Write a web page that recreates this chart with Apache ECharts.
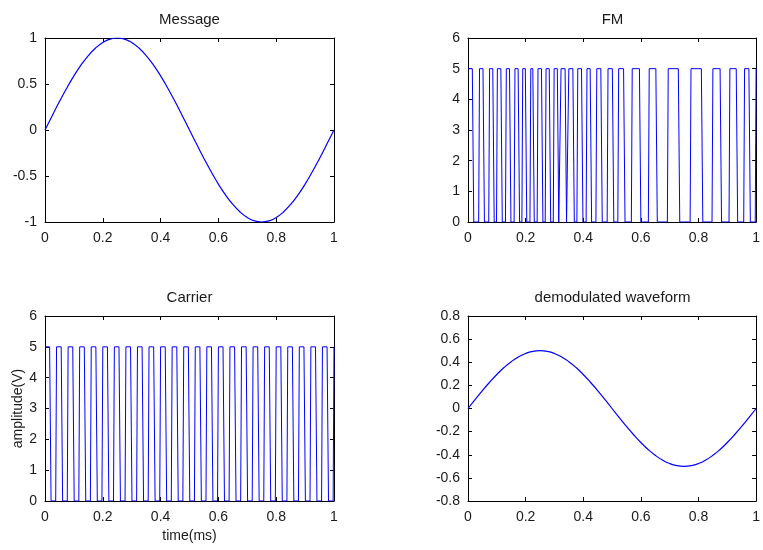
<!DOCTYPE html>
<html>
<head>
<meta charset="utf-8">
<script src="https://cdn.jsdelivr.net/npm/echarts@6/dist/echarts.min.js"></script>
<style>
html,body{margin:0;padding:0;background:#fff;}
#chart{width:763px;height:550px;}
</style>
</head>
<body>
<div id="chart"></div>
<script>
// ---- data ----
const panelTitles = ['Message', 'FM', 'Carrier', 'demodulated waveform'];
const yAxisLabel = 'amplitude(V)';
const xAxisLabel = 'time(ms)';

const sampleTimes = [0,0.025,0.05,0.075,0.1,0.125,0.15,0.175,0.2,0.225,0.25,0.275,0.3,0.325,0.35,0.375,0.4,0.425,0.45,0.475,0.5,0.525,0.55,0.575,0.6,0.625,0.65,0.675,0.7,0.725,0.75,0.775,0.8,0.825,0.85,0.875,0.9,0.925,0.95,0.975,1];
const messageValues = [0,0.156,0.309,0.454,0.588,0.707,0.809,0.891,0.951,0.988,1,0.988,0.951,0.891,0.809,0.707,0.588,0.454,0.309,0.156,0,-0.156,-0.309,-0.454,-0.588,-0.707,-0.809,-0.891,-0.951,-0.988,-1,-0.988,-0.951,-0.891,-0.809,-0.707,-0.588,-0.454,-0.309,-0.156,0];
const demodValues = [0,0.078,0.155,0.227,0.294,0.354,0.405,0.446,0.476,0.494,0.5,0.494,0.476,0.446,0.405,0.354,0.294,0.227,0.155,0.078,0,-0.078,-0.155,-0.227,-0.294,-0.354,-0.405,-0.446,-0.476,-0.494,-0.5,-0.494,-0.476,-0.446,-0.405,-0.354,-0.294,-0.227,-0.155,-0.078,0];

// square waves: times where each pulse is high (top start / top end)
const pulseHigh = 5;
const fmHighStart = [0,0.040,0.075,0.102,0.133,0.163,0.190,0.218,0.243,0.271,0.299,0.323,0.350,0.381,0.413,0.447,0.486,0.523,0.570,0.629,0.695,0.774,0.850,0.909,0.960,1.0];
const fmHighEnd   = [0.015,0.052,0.086,0.114,0.144,0.174,0.199,0.225,0.255,0.282,0.310,0.337,0.364,0.394,0.424,0.461,0.501,0.540,0.595,0.652,0.730,0.810,0.875,0.931,0.975,1.0];
const carrierHighStart = [0,0.04,0.08,0.12,0.16,0.20,0.24,0.28,0.32,0.36,0.40,0.44,0.48,0.52,0.56,0.60,0.64,0.68,0.72,0.76,0.80,0.84,0.88,0.92,0.96,1.0];
const carrierHighEnd   = [0.016,0.056,0.096,0.136,0.176,0.216,0.256,0.296,0.336,0.376,0.416,0.456,0.496,0.536,0.576,0.616,0.656,0.696,0.736,0.776,0.816,0.856,0.896,0.936,0.976,1.0];

const xTickStep = 0.2;
// ---------------------------------------

const RISE = 0.003, FALL = 0.005; // edge slant of sampled waveform
function squareWave(starts, ends, level) {
  const pts = [];
  for (let i = 0; i < starts.length; i++) {
    const s = starts[i], e = ends[i];
    if (s <= 0) { pts.push([0, level]); }
    else { pts.push([Math.max(0, s - RISE), 0]); pts.push([s, level]); }
    if (e < 1) { pts.push([e, level]); pts.push([Math.min(1, e + FALL), 0]); }
  }
  return pts;
}
function zip(xs, ys) { return xs.map((x, i) => [x, ys[i]]); }

const FONT = 'Liberation Sans, Arial, Helvetica, sans-serif';
const TXT = '#1a1a1a';
const grids = [
  {left: 45, top: 38, width: 289, height: 184},
  {left: 468, top: 38, width: 289, height: 184},
  {left: 45, top: 316, width: 289, height: 185},
  {left: 468, top: 316, width: 289, height: 185}
];
const yRanges = [
  {min: -1, max: 1, interval: 0.5},
  {min: 0, max: 6, interval: 1},
  {min: 0, max: 6, interval: 1},
  {min: -0.8, max: 0.8, interval: 0.2}
];

const axisLine = {show: true, onZero: false, lineStyle: {color: '#000', width: 1}};
const axisTick = {show: true, inside: true, length: 4, lineStyle: {color: '#000'}};
const labelStyle = {color: TXT, fontFamily: FONT, fontSize: 14};

const xAxes = [], yAxes = [];
grids.forEach((g, i) => {
  const xa = {
    type: 'value', gridIndex: i, min: 0, max: 1, interval: xTickStep,
    axisLine, axisTick, splitLine: {show: false},
    axisLabel: Object.assign({margin: 9}, labelStyle)
  };
  if (i === 2) {
    xa.name = xAxisLabel; xa.nameLocation = 'middle'; xa.nameGap = 28;
    xa.nameTextStyle = {color: TXT, fontFamily: FONT, fontSize: 14};
  }
  xAxes.push(xa);
  const ya = Object.assign({
    type: 'value', gridIndex: i,
    axisLine, axisTick, splitLine: {show: false},
    axisLabel: Object.assign({margin: 8}, labelStyle)
  }, yRanges[i]);
  if (i === 2) {
    ya.name = yAxisLabel; ya.nameLocation = 'middle'; ya.nameGap = 20;
    ya.nameTextStyle = {color: TXT, fontFamily: FONT, fontSize: 14};
  }
  yAxes.push(ya);
});
grids.forEach((g, i) => {
  xAxes.push({type: 'value', gridIndex: i, position: 'top', min: 0, max: 1, interval: xTickStep,
    axisLine, axisTick, axisLabel: {show: false}, splitLine: {show: false}});
  yAxes.push(Object.assign({type: 'value', gridIndex: i, position: 'right',
    axisLine, axisTick, axisLabel: {show: false}, splitLine: {show: false}}, yRanges[i]));
});

const lineStyle = {color: '#0000ff', width: 1};
const series = [
  {type: 'line', xAxisIndex: 0, yAxisIndex: 0, data: zip(sampleTimes, messageValues), smooth: true, showSymbol: false, lineStyle: {color: '#0000ff', width: 1.2}},
  {type: 'line', xAxisIndex: 1, yAxisIndex: 1, data: squareWave(fmHighStart, fmHighEnd, pulseHigh), showSymbol: false, lineStyle},
  {type: 'line', xAxisIndex: 2, yAxisIndex: 2, data: squareWave(carrierHighStart, carrierHighEnd, pulseHigh), showSymbol: false, lineStyle},
  {type: 'line', xAxisIndex: 3, yAxisIndex: 3, data: zip(sampleTimes, demodValues), smooth: true, showSymbol: false, lineStyle: {color: '#0000ff', width: 1.2}}
];

const titles = grids.map((g, i) => ({
  text: panelTitles[i], left: g.left + g.width / 2, textAlign: 'center',
  top: g.top - 26, padding: 0,
  textStyle: {color: TXT, fontFamily: FONT, fontSize: 15, fontWeight: 'normal'}
}));

const chart = echarts.init(document.getElementById('chart'), null, {renderer: 'canvas'});
chart.setOption({
  animation: false,
  backgroundColor: '#fff',
  title: titles,
  grid: grids,
  xAxis: xAxes,
  yAxis: yAxes,
  series
});
</script>
</body>
</html>
